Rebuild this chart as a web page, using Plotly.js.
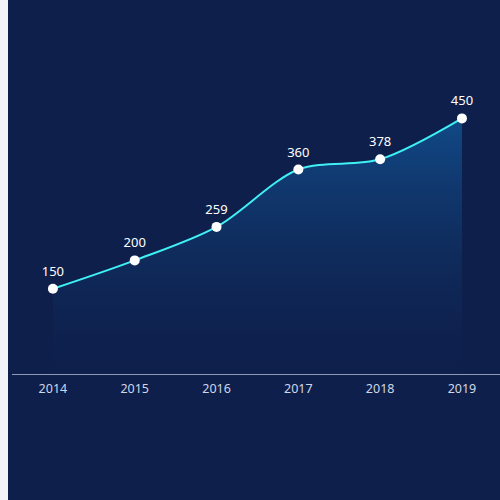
<!DOCTYPE html>
<html>
<head>
<meta charset="utf-8">
<script src="https://cdn.plot.ly/plotly-3.0.1.min.js"></script>
<style>
  html, body { margin: 0; padding: 0; background: #f2f4f8; }
  #chart { position: absolute; left: 8px; top: 0; width: 492px; height: 500px; }
</style>
</head>
<body>
<div id="chart"></div>
<script>
const years = ["2014", "2015", "2016", "2017", "2018", "2019"];
const values = [150, 200, 259, 360, 378, 450];

const fontFamily = 'Noto Sans, DejaVu Sans, sans-serif';

const area = {
  x: years,
  y: values,
  type: 'scatter',
  mode: 'lines+markers',
  line: { color: '#3ff0f5', width: 2, shape: 'spline', smoothing: 0.9 },
  marker: { color: '#ffffff', size: 10 },
  fill: 'tozeroy',
  fillgradient: {
    type: 'vertical',
    colorscale: [[0, 'rgba(14,31,75,0.2)'], [1, 'rgba(18,88,155,0.75)']]
  },
  hoverinfo: 'none',
  cliponaxis: false
};

// value labels: invisible bigger markers push the text a bit higher
const valueLabels = {
  x: years,
  y: values,
  type: 'scatter',
  mode: 'markers+text',
  marker: { color: 'rgba(0,0,0,0)', size: 14 },
  text: values.map(String),
  textposition: 'top center',
  textfont: { color: '#ffffff', size: 13, family: fontFamily },
  hoverinfo: 'none',
  cliponaxis: false
};

const layout = {
  width: 492,
  height: 500,
  margin: { l: 4, r: 0, t: 89.5, b: 125.5 },
  paper_bgcolor: '#0e1f4b',
  plot_bgcolor: '#0e1f4b',
  showlegend: false,
  xaxis: {
    type: 'category',
    range: [-0.5, 5.465],
    showgrid: false,
    zeroline: false,
    showline: true,
    linecolor: '#8e9bb8',
    linewidth: 1,
    ticks: '',
    ticklabelstandoff: 3,
    tickfont: { color: '#d0d8e8', size: 12.5, family: fontFamily },
    fixedrange: true
  },
  yaxis: {
    range: [0, 500],
    showgrid: false,
    zeroline: false,
    showline: false,
    showticklabels: false,
    fixedrange: true
  }
};

Plotly.newPlot('chart', [area, valueLabels], layout, { displayModeBar: false, staticPlot: true });
</script>
</body>
</html>
